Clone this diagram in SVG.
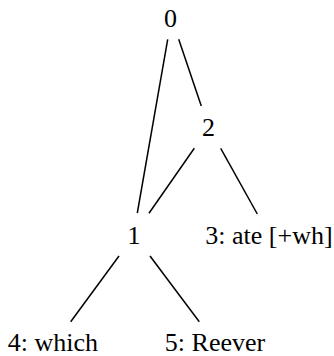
<svg xmlns="http://www.w3.org/2000/svg" width="334" height="356" viewBox="0 0 334 356">
<style>
text{font-family:"Liberation Serif","Times New Roman",serif;font-size:26px;fill:#000;text-anchor:middle}
.e line{stroke:#000;stroke-width:1.5}
</style>
<rect width="334" height="356" fill="#fff"/>
<g class="e" id="connectors">
<line x1="167.7" y1="39.3" x2="137.3" y2="213"/>
<line x1="178.7" y1="39.3" x2="201.3" y2="106"/>
<line x1="194.3" y1="148.3" x2="149" y2="213.3"/>
<line x1="220.7" y1="148.3" x2="257.3" y2="214"/>
<line x1="119" y1="256" x2="70.7" y2="321.7"/>
<line x1="150" y1="256" x2="199.3" y2="321.7"/>
</g>
<g id="n0"><text x="170.5" y="27">0</text></g>
<g id="n2"><text x="208.5" y="135.5">2</text></g>
<g id="n1"><text x="134" y="243.5">1</text></g>
<g id="n3"><text x="269" y="243.5">3: ate [+wh]</text></g>
<g id="n4"><text x="53" y="351">4: which</text></g>
<g id="n5"><text x="215" y="351">5: Reever</text></g>
</svg>
